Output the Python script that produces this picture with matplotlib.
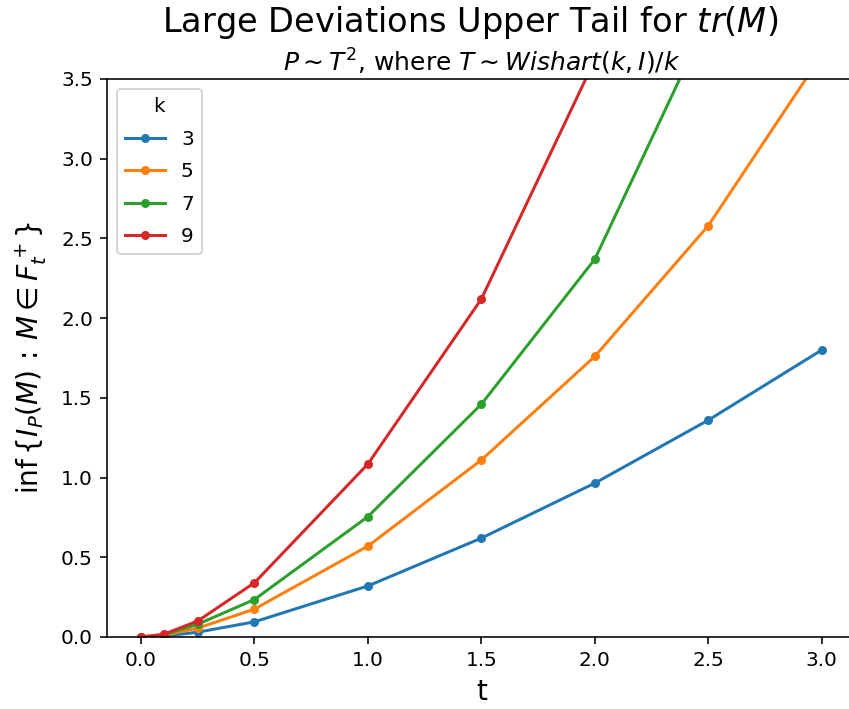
import matplotlib
matplotlib.use("Agg")
import matplotlib.pyplot as plt

# rate function values of the upper tail, one curve per k
t = [0.0, 0.1, 0.25, 0.5, 1.0, 1.5, 2.0, 2.5, 3.0]
ks = [3, 5, 7, 9]
rate = {
    3: [0.0, 0.005, 0.03, 0.095, 0.32, 0.62, 0.965, 1.36, 1.80],
    5: [0.0, 0.01, 0.055, 0.175, 0.57, 1.11, 1.76, 2.58, 3.65],
    7: [0.0, 0.013, 0.08, 0.235, 0.755, 1.46, 2.37, 3.88, 5.6],
    9: [0.0, 0.017, 0.10, 0.34, 1.085, 2.12, 3.62, 5.6, 8.0],
}
colors = ['#1f77b4', '#ff7f0e', '#2ca02c', '#d62728']

fig = plt.figure(figsize=(849 / 144, 709 / 144), dpi=144)
ax = fig.add_axes([0.126, 0.1016, 0.882, 0.787])

for k, c in zip(ks, colors):
    ax.plot(t, rate[k], marker='o', ms=3.5, color=c, label=str(k))

ax.set_xlim(-0.15, 3.15)
ax.set_ylim(0, 3.5)
ax.spines['right'].set_visible(False)
ax.set_xlabel('t', fontsize=14)
ax.set_ylabel(r'$\inf\{I_P(M)\,:\,M \in F_t^+\}$', fontsize=14, labelpad=6)
ax.legend(title='k', loc='upper left', labelspacing=0.68)

fig.suptitle(r'Large Deviations Upper Tail for $tr(M)$', fontsize=16.8, x=0.554, y=0.995)
ax.set_title(r'$P \sim T^2$, where $T \sim Wishart(k, I)/k$', fontsize=12.5, pad=4)

fig.savefig('out.png', dpi=144)
